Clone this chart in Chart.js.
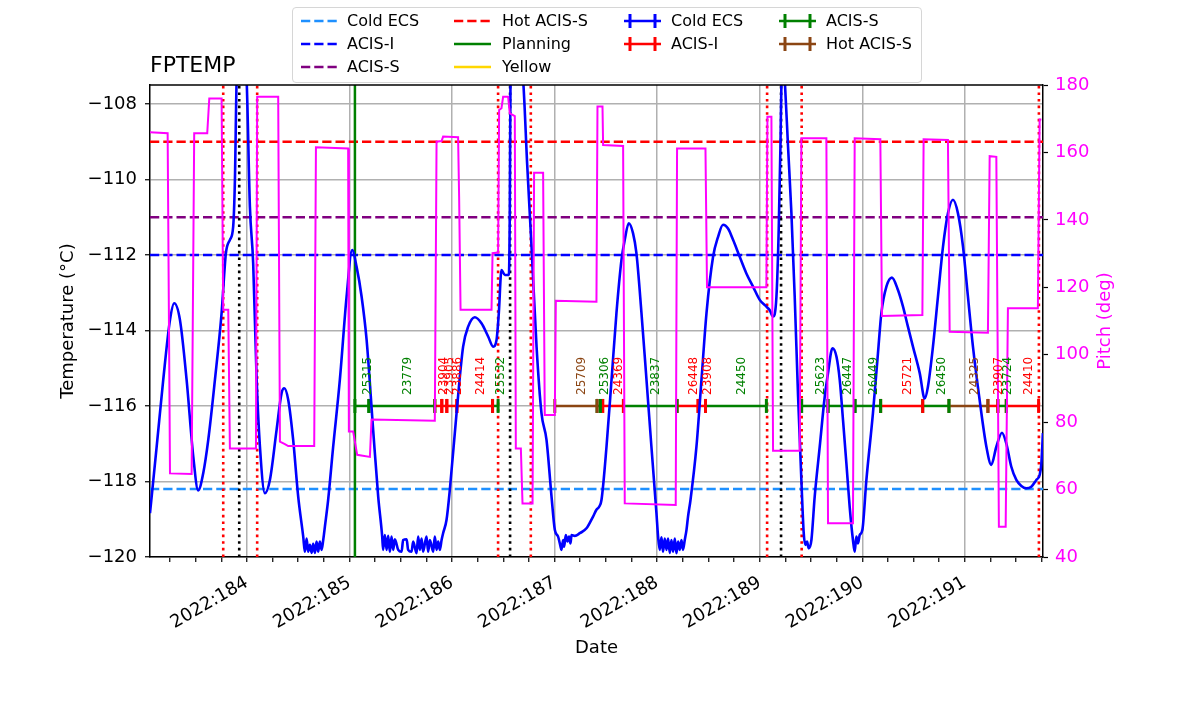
<!DOCTYPE html>
<html>
<head>
<meta charset="utf-8">
<title>FPTEMP</title>
<script src="https://cdn.jsdelivr.net/npm/chart.js@4.4.1/dist/chart.umd.min.js"></script>
<style>
    body { margin: 0; background: #fff; }
    #wrap { position: relative; width: 1200px; height: 714px; }
    #legend {
        position: absolute; left: 292px; top: 7px; width: 628px; height: 74px;
        border: 1px solid #d6d6d6; border-radius: 4px; background: rgba(255,255,255,0.85);
        font-family: 'DejaVu Sans', sans-serif; font-size: 16px; color: #000;
    }
    #legend svg, #legend span { position: absolute; }
    #legend span { line-height: 20px; white-space: nowrap; }
</style>
</head>
<body>
<div id="wrap">
    <canvas id="fptempChart" width="1200" height="714"></canvas>
    <div id="legend"></div>
</div>
<script>
// FPTEMP (deg C) vs day of 2022
const tempDays = [
    183.055, 183.120, 183.184, 183.250, 183.291, 183.347, 183.412, 183.477, 183.525, 183.574,
    183.623, 183.688, 183.753, 183.795, 183.834, 183.866, 183.883, 183.900, 183.946, 183.997,
    184.029, 184.061, 184.095, 184.127, 184.175, 184.224, 184.289, 184.338, 184.364, 184.403,
    184.451, 184.500, 184.549, 184.565, 184.582, 184.597, 184.614, 184.631, 184.646, 184.663,
    184.679, 184.695, 184.711, 184.728, 184.744, 184.760, 184.792, 184.841, 184.906, 184.972,
    185.026, 185.069, 185.118, 185.167, 185.231, 185.280, 185.319, 185.328, 185.345, 185.362,
    185.377, 185.394, 185.410, 185.426, 185.442, 185.475, 185.508, 185.523, 185.557, 185.572,
    185.605, 185.621, 185.654, 185.670, 185.686, 185.703, 185.718, 185.751, 185.767, 185.784,
    185.816, 185.832, 185.849, 185.865, 185.881, 185.898, 185.913, 185.946, 185.979, 186.044,
    186.108, 186.157, 186.222, 186.287, 186.352, 186.401, 186.434, 186.456, 186.482, 186.515,
    186.554, 186.563, 186.570, 186.627, 186.693, 186.732, 186.775, 186.824, 186.872, 186.921,
    186.970, 187.002, 187.034, 187.051, 187.067, 187.083, 187.093, 187.109, 187.126, 187.141,
    187.155, 187.165, 187.197, 187.246, 187.311, 187.375, 187.408, 187.434, 187.457, 187.506,
    187.555, 187.603, 187.652, 187.684, 187.723, 187.765, 187.798, 187.847, 187.896, 187.944,
    187.993, 188.009, 188.025, 188.042, 188.057, 188.074, 188.091, 188.106, 188.123, 188.139,
    188.155, 188.172, 188.188, 188.204, 188.220, 188.237, 188.252, 188.269, 188.286, 188.301,
    188.325, 188.383, 188.432, 188.481, 188.545, 188.594, 188.642, 188.691, 188.740, 188.805,
    188.870, 188.935, 189.000, 189.065, 189.097, 189.130, 189.163, 189.185, 189.202, 189.212,
    189.228, 189.244, 189.276, 189.309, 189.341, 189.374, 189.406, 189.429, 189.445, 189.461,
    189.478, 189.504, 189.536, 189.585, 189.634, 189.666, 189.709, 189.748, 189.780, 189.812,
    189.845, 189.877, 189.909, 189.926, 189.942, 189.958, 189.975, 190.001, 190.040, 190.104,
    190.153, 190.186, 190.235, 190.289, 190.348, 190.397, 190.445, 190.494, 190.560, 190.608,
    190.640, 190.689, 190.738, 190.787, 190.835, 190.884, 190.933, 190.982, 191.030, 191.079,
    191.144, 191.210, 191.258, 191.307, 191.362, 191.404, 191.453, 191.502, 191.551, 191.599,
    191.648, 191.697, 191.729, 191.746, 191.761
];
const tempVals = [
    -118.84, -117.08, -115.31, -113.72, -113.28, -113.72, -115.31, -117.34, -118.24, -117.78,
    -116.90, -115.31, -113.54, -111.96, -111.60, -111.25, -110.01, -107.36, -106.30, -107.36,
    -110.72, -112.22, -115.31, -117.08, -118.31, -117.96, -116.64, -115.66, -115.53, -115.84,
    -116.90, -118.40, -119.46, -119.86, -119.51, -119.86, -119.68, -119.89, -119.65, -119.89,
    -119.59, -119.86, -119.59, -119.81, -119.55, -119.20, -118.49, -117.08, -115.31, -113.10,
    -111.87, -112.31, -113.10, -114.25, -116.64, -118.40, -119.46, -119.81, -119.42, -119.81,
    -119.44, -119.86, -119.46, -119.81, -119.53, -119.81, -119.86, -119.55, -119.53, -119.81,
    -119.86, -119.59, -119.90, -119.46, -119.81, -119.51, -119.86, -119.46, -119.86, -119.55,
    -119.86, -119.46, -119.81, -119.59, -119.81, -119.55, -119.37, -119.02, -118.20, -116.19,
    -114.43, -113.90, -113.65, -113.81, -114.16, -114.43, -114.25, -113.54, -112.40, -112.53,
    -112.53, -110.90, -107.36, -106.30, -107.36, -109.57, -111.78, -114.43, -116.19, -116.90,
    -118.40, -119.28, -119.46, -119.64, -119.81, -119.55, -119.73, -119.42, -119.59, -119.46,
    -119.64, -119.42, -119.44, -119.37, -119.24, -118.93, -118.75, -118.67, -118.49, -117.08,
    -115.31, -113.54, -112.13, -111.60, -111.16, -111.43, -111.96, -113.54, -115.31, -117.08,
    -118.84, -119.46, -119.81, -119.48, -119.86, -119.51, -119.81, -119.51, -119.89, -119.55,
    -119.86, -119.51, -119.90, -119.59, -119.81, -119.55, -119.81, -119.55, -119.28, -118.93,
    -118.49, -117.08, -115.31, -113.54, -112.05, -111.52, -111.20, -111.30, -111.60, -112.05,
    -112.49, -112.84, -113.19, -113.37, -113.46, -113.63, -113.10, -111.34, -109.13, -107.36,
    -106.80, -107.36, -109.13, -110.90, -113.10, -115.75, -117.96, -119.37, -119.68, -119.59,
    -119.77, -119.55, -118.40, -117.08, -115.75, -115.13, -114.47, -114.69, -115.31, -116.37,
    -117.52, -118.67, -119.55, -119.86, -119.46, -119.64, -119.42, -119.28, -117.96, -116.19,
    -114.60, -113.54, -112.84, -112.60, -112.93, -113.37, -113.90, -114.43, -115.13, -115.80,
    -115.49, -114.43, -113.10, -111.78, -110.90, -110.54, -110.90, -111.78, -113.10, -114.43,
    -115.84, -117.08, -117.56, -117.08, -116.71, -116.99, -117.61, -117.96, -118.12, -118.18,
    -118.14, -117.96, -117.83, -117.52, -116.72
];

// pitch (deg), right axis
const pitchDays = [
    183.055, 183.227, 183.250, 183.461, 183.486, 183.613, 183.633, 183.753, 183.769, 183.818,
    183.834, 184.088, 184.100, 184.305, 184.322, 184.370, 184.403, 184.656, 184.673, 184.987,
    184.994, 185.036, 185.075, 185.199, 185.215, 185.832, 185.849, 185.898, 185.913, 186.059,
    186.069, 186.083, 186.385, 186.395, 186.449, 186.459, 186.482, 186.498, 186.547, 186.563,
    186.612, 186.622, 186.671, 186.687, 186.785, 186.800, 186.888, 186.904, 187.002, 187.012,
    187.408, 187.418, 187.467, 187.473, 187.668, 187.684, 188.181, 188.194, 188.471, 188.486,
    189.065, 189.075, 189.114, 189.130, 189.390, 189.406, 189.650, 189.666, 189.909, 189.926,
    190.176, 190.192, 190.586, 190.598, 190.835, 190.852, 191.225, 191.242, 191.307, 191.332,
    191.398, 191.420, 191.712, 191.729, 191.746
];
const pitchVals = [
    166.0, 165.7, 64.8, 64.6, 165.7, 165.7, 176.0, 176.0, 113.3, 113.3,
    72.2, 72.2, 176.5, 176.5, 74.2, 73.5, 72.9, 72.9, 161.5, 161.2,
    77.2, 77.2, 70.3, 69.7, 80.8, 80.4, 163.2, 163.4, 164.7, 164.5,
    146.9, 113.3, 113.3, 130.1, 130.3, 172.6, 173.1, 176.5, 176.5, 171.6,
    170.8, 72.2, 72.2, 55.9, 55.9, 154.0, 154.0, 82.1, 82.1, 116.0,
    115.7, 173.6, 173.6, 162.2, 161.9, 55.9, 55.4, 161.2, 161.2, 120.0,
    120.0, 170.6, 170.6, 71.5, 71.5, 164.2, 164.2, 50.0, 50.0, 164.2,
    163.9, 111.5, 111.8, 163.9, 163.7, 106.8, 106.5, 158.9, 158.7, 49.0,
    49.0, 113.8, 113.8, 169.8, 169.8
];

// limit lines (deg C)
const limitNames = ['Cold ECS', 'ACIS-I', 'ACIS-S', 'Hot ACIS-S'];
const limitVals = [-118.2, -112.0, -111.0, -109.0];

// obsids along the timeline
const obsIds   = ['25315', '23779', '23904', '23905', '23886', '24414', '25532', '25709', '25306', '24369', '23837', '26448',
                  '23908', '24450', '25623', '26447', '26449', '25721', '26450', '24325', '23907', '23724', '24410'];
const obsStart = [185.053, 185.189, 185.832, 185.900, 185.949, 186.047, 186.395, 187.002, 187.414, 187.470, 187.671, 188.194,
                  188.399, 188.471, 189.409, 189.666, 189.929, 190.179, 190.589, 190.845, 191.225, 191.322, 191.404];
const obsStop  = [185.189, 185.832, 185.900, 185.949, 186.047, 186.395, 186.449, 187.414, 187.447, 187.671, 188.194, 188.399,
                  188.471, 189.065, 189.666, 189.929, 190.179, 190.589, 190.845, 191.225, 191.322, 191.404, 191.719];
const obsMode  = ['ACIS-S', 'ACIS-S', 'ACIS-I', 'ACIS-I', 'ACIS-I', 'ACIS-I', 'ACIS-S', 'Hot ACIS-S', 'ACIS-S', 'ACIS-I', 'ACIS-S', 'ACIS-I',
                  'ACIS-I', 'ACIS-S', 'ACIS-S', 'ACIS-S', 'ACIS-S', 'ACIS-I', 'ACIS-S', 'Hot ACIS-S', 'ACIS-I', 'ACIS-S', 'ACIS-I'];
const obsLineTemp = -116.0;

// vertical markers
const redMarkDays = [183.769, 184.100, 186.449, 186.768, 189.072, 189.409, 191.722];
const blackMarkDays = [183.925, 186.566, 189.208];
const planningDays = [185.053];

// axes
const xMin = 183.055, xMax = 191.762;
const dayTicks = [184, 185, 186, 187, 188, 189, 190, 191];
const tempTicks = [-120, -118, -116, -114, -112, -110, -108];
const pitchTicks = [40, 60, 80, 100, 120, 140, 160, 180];
const tempMin = -120, tempMax = -107.5;
const pitchMin = 40, pitchMax = 180;

const limitColors = { 'Cold ECS': '#1e90ff', 'ACIS-I': '#0000ff', 'ACIS-S': '#800080', 'Hot ACIS-S': '#ff0000' };
const modeColors = { 'Cold ECS': '#0000ff', 'ACIS-I': '#ff0000', 'ACIS-S': '#008000', 'Hot ACIS-S': '#8b4513' };
const FONT = "'DejaVu Sans', sans-serif";

Chart.defaults.font.family = FONT;
Chart.defaults.color = '#000';

const datasets = [];

datasets.push({
    label: 'Pitch',
    yAxisID: 'yP',
    data: pitchDays.map((d, i) => ({ x: d, y: pitchVals[i] })),
    borderColor: '#ff00ff',
    borderWidth: 2,
    order: 0
});

datasets.push({
    label: 'FPTEMP',
    yAxisID: 'yT',
    data: tempDays.map((d, i) => ({ x: d, y: tempVals[i] })),
    borderColor: '#0000ff',
    borderWidth: 2.6,
    cubicInterpolationMode: 'monotone',
    order: 1
});

obsIds.forEach((id, i) => {
    const c = modeColors[obsMode[i]];
    datasets.push({
        label: id,
        yAxisID: 'yT',
        data: [{ x: obsStart[i], y: obsLineTemp }, { x: obsStop[i], y: obsLineTemp }],
        borderColor: c,
        borderWidth: 2.5,
        pointStyle: 'line',
        pointRotation: 90,
        pointRadius: 7,
        pointBorderWidth: 3,
        pointBorderColor: c,
        pointBackgroundColor: c,
        order: 2
    });
});

const vline = (day, color, dash, width) => ({
    yAxisID: 'yT',
    data: [{ x: day, y: tempMin }, { x: day, y: tempMax }],
    borderColor: color,
    borderWidth: width,
    borderDash: dash,
    order: 3
});
redMarkDays.forEach(d => datasets.push(vline(d, '#ff0000', [2.6, 4], 2.6)));
blackMarkDays.forEach(d => datasets.push(vline(d, '#000000', [2.6, 4], 2.6)));
planningDays.forEach(d => datasets.push(vline(d, '#008000', [], 2.5)));

limitNames.forEach((name, i) => {
    datasets.push({
        label: name,
        yAxisID: 'yT',
        data: [{ x: xMin, y: limitVals[i] }, { x: xMax, y: limitVals[i] }],
        borderColor: limitColors[name],
        borderWidth: 2.5,
        borderDash: [9.25, 4],
        order: 4
    });
});

const isMajor = v => Math.abs(v - Math.round(v)) < 1e-6;

// frame, title, right axis label, obsid labels
const decor = {
    id: 'decor',
    afterDatasetsDraw(chart) {
        const { ctx, scales } = chart;
        ctx.save();
        ctx.font = `12px ${FONT}`;
        ctx.textAlign = 'left';
        ctx.textBaseline = 'top';
        obsIds.forEach((id, i) => {
            const x = scales.x.getPixelForValue((obsStart[i] + obsStop[i]) / 2);
            const y = scales.yT.getPixelForValue(obsLineTemp) - 11;
            ctx.save();
            ctx.translate(x, y);
            ctx.rotate(-Math.PI / 2);
            ctx.fillStyle = modeColors[obsMode[i]];
            ctx.fillText(id, 0, 0);
            ctx.restore();
        });
        ctx.restore();
    },
    afterDraw(chart) {
        const { ctx, chartArea: a } = chart;
        ctx.save();
        ctx.strokeStyle = '#000';
        ctx.lineWidth = 1.5;
        ctx.beginPath();
        ctx.moveTo(a.left, a.top);
        ctx.lineTo(a.right, a.top);
        ctx.stroke();

        ctx.fillStyle = '#000';
        ctx.font = `22px ${FONT}`;
        ctx.textAlign = 'left';
        ctx.textBaseline = 'alphabetic';
        ctx.fillText('FPTEMP', a.left, a.top - 13);

        ctx.translate(1105, (a.top + a.bottom) / 2);
        ctx.rotate(-Math.PI / 2);
        ctx.fillStyle = '#ff00ff';
        ctx.font = `18px ${FONT}`;
        ctx.textAlign = 'center';
        ctx.textBaseline = 'middle';
        ctx.fillText('Pitch (deg)', 0, 0);
        ctx.restore();
    }
};

new Chart(document.getElementById('fptempChart'), {
    type: 'line',
    data: { datasets },
    options: {
        responsive: false,
        animation: false,
        events: [],
        layout: { padding: { top: 85, left: 0, right: 0, bottom: 0 } },
        elements: { point: { radius: 0 }, line: { tension: 0 } },
        plugins: { legend: { display: false }, tooltip: { enabled: false }, title: { display: false } },
        scales: {
            x: {
                type: 'linear',
                position: 'bottom',
                min: xMin,
                max: xMax,
                afterBuildTicks: scale => {
                    const t = [];
                    for (let v = 183.25; v <= xMax; v += 0.25) t.push({ value: v });
                    scale.ticks = t;
                },
                afterFit: scale => { scale.height = 157; },
                ticks: {
                    autoSkip: false,
                    maxRotation: 30,
                    minRotation: 30,
                    padding: 10,
                    font: { size: 18 },
                    callback: v => (isMajor(v) && dayTicks.includes(Math.round(v))) ? `2022:${Math.round(v)}` : ''
                },
                grid: {
                    color: ctx => (ctx.tick && isMajor(ctx.tick.value)) ? '#b0b0b0' : 'rgba(0,0,0,0)',
                    lineWidth: 1.5,
                    tickColor: '#000',
                    tickLength: 5,
                    tickWidth: 1.2
                },
                border: { display: true, color: '#000', width: 1.5 },
                title: { display: true, text: 'Date', font: { size: 18 }, padding: { top: 0, bottom: 55 } }
            },
            yT: {
                type: 'linear',
                position: 'left',
                min: tempMin,
                max: tempMax,
                afterBuildTicks: scale => { scale.ticks = tempTicks.map(v => ({ value: v })); },
                afterFit: scale => { scale.width = 150; },
                ticks: {
                    padding: 8,
                    font: { size: 18 },
                    callback: v => String(v).replace('-', '\u2212')
                },
                grid: { color: '#b0b0b0', lineWidth: 1.5, tickColor: '#000', tickLength: 5, tickWidth: 1.2 },
                border: { display: true, color: '#000', width: 1.5 },
                title: { display: true, text: 'Temperature (°C)', font: { size: 18 }, padding: { top: 58, bottom: 0 } }
            },
            yP: {
                type: 'linear',
                position: 'right',
                min: pitchMin,
                max: pitchMax,
                afterBuildTicks: scale => { scale.ticks = pitchTicks.map(v => ({ value: v })); },
                afterFit: scale => { scale.width = 157; },
                ticks: { padding: 7, color: '#ff00ff', font: { size: 18 } },
                grid: { drawOnChartArea: false, tickColor: '#000', tickLength: 5, tickWidth: 1.2 },
                border: { display: true, color: '#000', width: 1.5 }
            }
        }
    },
    plugins: [decor]
});

// legend, four columns like the original
const legendItems = [
    { col: 0, row: 0, text: 'Cold ECS',   color: limitColors['Cold ECS'],   kind: 'dash' },
    { col: 0, row: 1, text: 'ACIS-I',     color: limitColors['ACIS-I'],     kind: 'dash' },
    { col: 0, row: 2, text: 'ACIS-S',     color: limitColors['ACIS-S'],     kind: 'dash' },
    { col: 1, row: 0, text: 'Hot ACIS-S', color: limitColors['Hot ACIS-S'], kind: 'dash' },
    { col: 1, row: 1, text: 'Planning',   color: '#008000',                 kind: 'solid' },
    { col: 1, row: 2, text: 'Yellow',     color: '#ffd700',                 kind: 'solid' },
    { col: 2, row: 0, text: 'Cold ECS',   color: modeColors['Cold ECS'],    kind: 'err' },
    { col: 2, row: 1, text: 'ACIS-I',     color: modeColors['ACIS-I'],      kind: 'err' },
    { col: 3, row: 0, text: 'ACIS-S',     color: modeColors['ACIS-S'],      kind: 'err' },
    { col: 3, row: 1, text: 'Hot ACIS-S', color: modeColors['Hot ACIS-S'],  kind: 'err' }
];
const colSampleX = [8, 161, 331, 486];
const colTextX = [54, 209, 378, 533];
const rowY = [13, 36, 59];

const legend = document.getElementById('legend');
legendItems.forEach(it => {
    let marks = '';
    if (it.kind === 'dash') {
        marks = `<line x1="0" y1="8" x2="37" y2="8" stroke="${it.color}" stroke-width="2.5" stroke-dasharray="9.25 4"/>`;
    } else if (it.kind === 'solid') {
        marks = `<line x1="0" y1="8" x2="37" y2="8" stroke="${it.color}" stroke-width="2.5"/>`;
    } else {
        marks = `<line x1="0" y1="8" x2="37" y2="8" stroke="${it.color}" stroke-width="2.5"/>
                 <line x1="6" y1="1" x2="6" y2="15" stroke="${it.color}" stroke-width="3"/>
                 <line x1="31" y1="1" x2="31" y2="15" stroke="${it.color}" stroke-width="3"/>`;
    }
    const y = rowY[it.row];
    legend.insertAdjacentHTML('beforeend',
        `<svg width="37" height="16" style="left:${colSampleX[it.col]}px;top:${y - 8}px">${marks}</svg>` +
        `<span style="left:${colTextX[it.col]}px;top:${y - 10}px">${it.text}</span>`);
});
</script>
</body>
</html>
